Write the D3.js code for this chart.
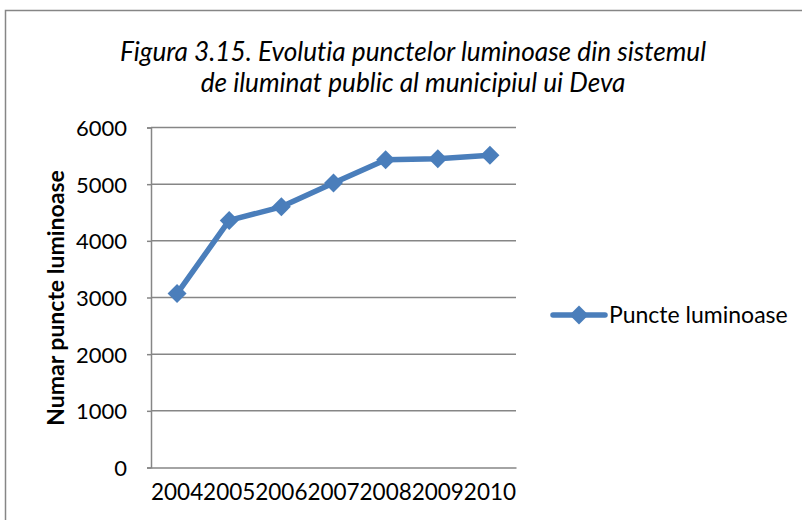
<!DOCTYPE html>
<html>
<head>
<meta charset="utf-8">
<script src="https://cdn.jsdelivr.net/npm/d3@7"></script>
<style>
  html, body { margin: 0; padding: 0; background: #fff; }
  svg { display: block; }
  text { font-family: Lato, "Open Sans", sans-serif; fill: #000; font-variant-ligatures: none; }
</style>
</head>
<body>
<svg id="chart" width="802" height="520"></svg>
<script>
// Number of public lighting points per year
const years = ["2004", "2005", "2006", "2007", "2008", "2009", "2010"];
const lightPoints = [3070, 4360, 4600, 5020, 5430, 5450, 5510];
const yTicks = [0, 1000, 2000, 3000, 4000, 5000, 6000];
const titleLines = [
  "Figura 3.15. Evolutia punctelor luminoase din sistemul",
  "de iluminat public al municipiul ui Deva"
];
const yTitle = "Numar puncte luminoase";
const seriesName = "Puncte luminoase";

const color = "#4a7ebb";
const gridColor = "#868686";

const svg = d3.select("#chart");

// Outer chart frame
svg.append("rect")
  .attr("x", 5.5).attr("y", 10.5)
  .attr("width", 900).attr("height", 600)
  .attr("fill", "#fff")
  .attr("stroke", "#868686").attr("stroke-width", 1.5);

const plot = { left: 151, right: 516, top: 127.5, bottom: 467.5 };

const x = d3.scaleBand().domain(years).range([plot.left, plot.right]);
const y = d3.scaleLinear().domain([0, 6000]).range([plot.bottom, plot.top]);

// Title
svg.append("g").selectAll("text")
  .data(titleLines)
  .join("text")
  .attr("x", 413)
  .attr("y", (d, i) => 61 + i * 31)
  .attr("text-anchor", "middle")
  .attr("font-style", "italic")
  .attr("font-size", 26.2)
  .text(d => d);

// Horizontal gridlines
svg.append("g").selectAll("line")
  .data(yTicks.filter(t => t > 0))
  .join("line")
  .attr("x1", plot.left).attr("x2", plot.right)
  .attr("y1", d => y(d)).attr("y2", d => y(d))
  .attr("stroke", gridColor).attr("stroke-width", 1.5);

// Y axis
const yAxis = svg.append("g")
  .attr("transform", `translate(${plot.left},0)`)
  .call(d3.axisLeft(y).tickValues(yTicks).tickSize(4).tickPadding(20).tickFormat(d3.format("d")));
yAxis.select(".domain").attr("stroke", gridColor).attr("stroke-width", 1.5);
yAxis.selectAll(".tick line").attr("stroke", gridColor).attr("stroke-width", 1.5);
yAxis.selectAll(".tick text")
  .attr("font-size", 22).attr("font-family", "Lato, sans-serif").attr("fill", "#000")
  .attr("dy", "0.36em");

// X axis
const xAxis = svg.append("g")
  .attr("transform", `translate(0,${plot.bottom})`)
  .call(d3.axisBottom(x).tickSize(0).tickPadding(18));
xAxis.select(".domain").attr("stroke", gridColor).attr("stroke-width", 1.5);
xAxis.selectAll(".tick text")
  .attr("font-size", 22.5).attr("font-family", "Lato, sans-serif").attr("fill", "#000")
  .attr("dy", "0.66em");

// Y axis title
svg.append("text")
  .attr("transform", `translate(64,298) rotate(-90)`)
  .attr("text-anchor", "middle")
  .attr("font-weight", "bold")
  .attr("font-size", 23)
  .text(yTitle);

// Series line
const cx = d => x(d) + x.bandwidth() / 2;
const pts = years.map((yr, i) => [cx(yr), y(lightPoints[i])]);
svg.append("path")
  .attr("d", d3.line()(pts))
  .attr("fill", "none")
  .attr("stroke", color)
  .attr("stroke-width", 5.5)
  .attr("stroke-linejoin", "round");

// Diamond markers
const diamond = d3.symbol().type(d3.symbolSquare).size(180);
svg.append("g").selectAll("path")
  .data(pts)
  .join("path")
  .attr("d", diamond)
  .attr("transform", d => `translate(${d[0]},${d[1]}) rotate(45)`)
  .attr("fill", color);

// Legend
const lg = svg.append("g").attr("transform", "translate(553,315)");
lg.append("line")
  .attr("x1", 0).attr("x2", 52).attr("y1", 0).attr("y2", 0)
  .attr("stroke", color).attr("stroke-width", 5.5).attr("stroke-linecap", "round");
lg.append("path")
  .attr("d", diamond)
  .attr("transform", "translate(26,0) rotate(45)")
  .attr("fill", color);
lg.append("text")
  .attr("x", 56).attr("y", 0).attr("dy", "0.36em")
  .attr("font-size", 23)
  .text(seriesName);
</script>
</body>
</html>
